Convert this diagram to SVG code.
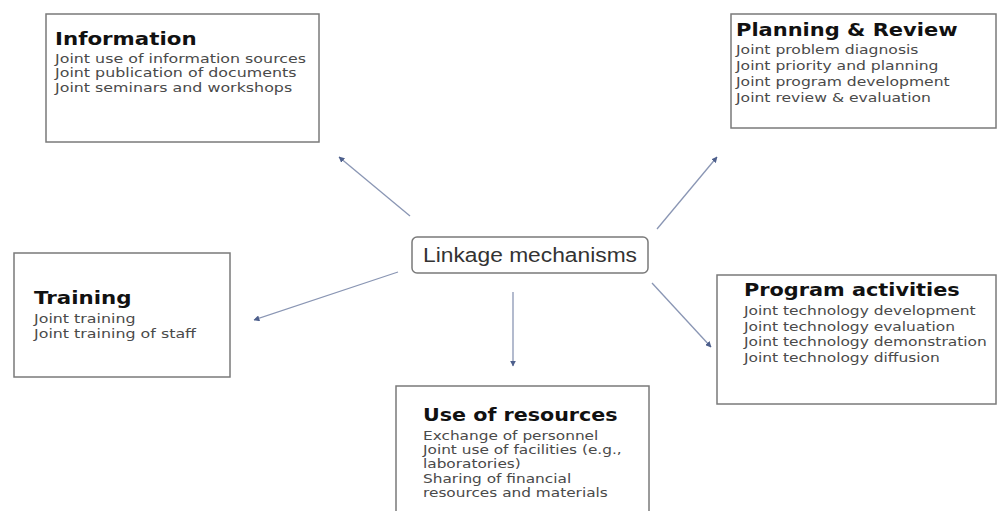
<svg xmlns="http://www.w3.org/2000/svg" width="997" height="511" viewBox="0 0 997 511">
  <defs>
    <style>
      .box { fill: #ffffff; stroke: #7a7a7a; stroke-width: 1.5; }
      .title { font-family: "DejaVu Sans", Verdana, sans-serif; font-weight: bold; font-size: 17.5px; fill: #111111; }
      .body { font-family: "DejaVu Sans", Verdana, sans-serif; font-size: 13px; fill: #4a4a4a; }
      .center { font-family: "Liberation Sans", Arial, sans-serif; font-size: 20px; fill: #333333; }
      .conn { stroke: #8a96b4; stroke-width: 1.3; fill: none; marker-end: url(#arrow); }
    </style>
    <marker id="arrow" viewBox="0 0 10 10" refX="9" refY="5" markerWidth="6" markerHeight="6" orient="auto" markerUnits="userSpaceOnUse">
      <path d="M0,0 L10,5 L0,10 z" fill="#4d5f8c"/>
    </marker>
  </defs>
  <rect x="0" y="0" width="997" height="511" fill="#ffffff"/>

  <g id="connectors">
    <line class="conn" x1="410" y1="216" x2="339" y2="157"/>
    <line class="conn" x1="657" y1="229" x2="717" y2="157"/>
    <line class="conn" x1="398" y1="272" x2="254" y2="320"/>
    <line class="conn" x1="513" y1="292" x2="513" y2="366"/>
    <line class="conn" x1="652" y1="283" x2="711" y2="347"/>
  </g>

  <g id="information">
    <rect class="box" x="46" y="14" width="273" height="128"/>
    <g transform="translate(55,0) scale(1.22,1)">
      <text class="title" x="0" y="45">Information</text>
      <text class="body" x="0" y="63">Joint use of information sources</text>
      <text class="body" x="0" y="77.5">Joint publication of documents</text>
      <text class="body" x="0" y="92">Joint seminars and workshops</text>
    </g>
  </g>

  <g id="planning">
    <rect class="box" x="731" y="14" width="265" height="114"/>
    <g transform="translate(736,0) scale(1.2,1)">
      <text class="title" x="0" y="36">Planning &amp; Review</text>
      <text class="body" x="0" y="54">Joint problem diagnosis</text>
      <text class="body" x="0" y="70">Joint priority and planning</text>
      <text class="body" x="0" y="86">Joint program development</text>
      <text class="body" x="0" y="102">Joint review &amp; evaluation</text>
    </g>
  </g>

  <g id="linkage">
    <rect class="box" x="412" y="237" width="236" height="36" rx="5" ry="5"/>
    <text class="center" x="530" y="262" text-anchor="middle" textLength="214" lengthAdjust="spacingAndGlyphs">Linkage mechanisms</text>
  </g>

  <g id="training">
    <rect class="box" x="14" y="253" width="216" height="124"/>
    <g transform="translate(34,0) scale(1.22,1)">
      <text class="title" x="0" y="304">Training</text>
      <text class="body" x="0" y="323">Joint training</text>
      <text class="body" x="0" y="338">Joint training of staff</text>
    </g>
  </g>

  <g id="program">
    <rect class="box" x="717" y="275" width="279" height="129"/>
    <g transform="translate(744,0) scale(1.19,1)">
      <text class="title" x="0" y="296">Program activities</text>
      <text class="body" x="0" y="315">Joint technology development</text>
      <text class="body" x="0" y="331">Joint technology evaluation</text>
      <text class="body" x="0" y="346">Joint technology demonstration</text>
      <text class="body" x="0" y="362">Joint technology diffusion</text>
    </g>
  </g>

  <g id="resources">
    <rect class="box" x="396" y="386" width="253" height="140"/>
    <g transform="translate(423,0) scale(1.18,1)">
      <text class="title" x="0" y="421">Use of resources</text>
      <text class="body" x="0" y="440">Exchange of personnel</text>
      <text class="body" x="0" y="454">Joint use of facilities (e.g.,</text>
      <text class="body" x="0" y="468">laboratories)</text>
      <text class="body" x="0" y="483">Sharing of financial</text>
      <text class="body" x="0" y="497">resources and materials</text>
    </g>
  </g>
</svg>
